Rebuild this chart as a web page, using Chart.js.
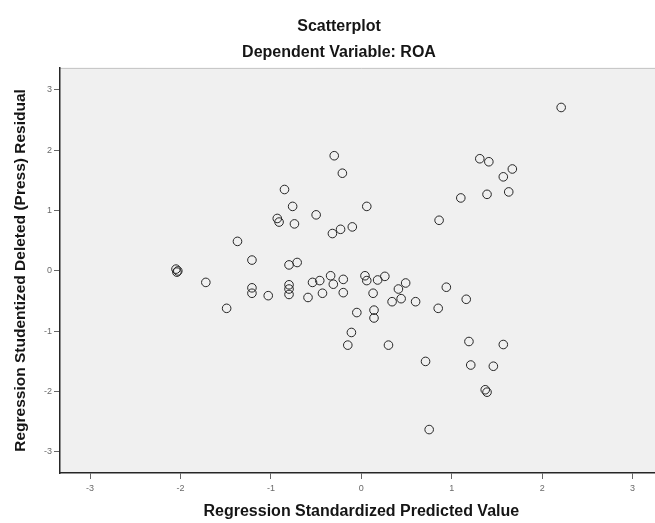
<!DOCTYPE html>
<html>
<head>
<meta charset="utf-8">
<title>Scatterplot</title>
<script src="https://cdn.jsdelivr.net/npm/chart.js@4.4.1/dist/chart.umd.min.js"></script>
<style>
  html, body { margin: 0; padding: 0; background: #ffffff; overflow: hidden; }
  canvas { display: block; }
</style>
</head>
<body>
<!-- the plot frame runs past the right edge of the picture, so the canvas is a bit wider than the window -->
<canvas id="scatter" width="668" height="523"></canvas>
<script>
// values
const predicted = [
  -2.05, -2.03, -2.04, -1.72, -1.49, -1.37, -1.21, -1.21, -1.21, -1.03,
  -0.85, -0.76, -0.93, -0.91, -0.74, -0.80, -0.71, -0.80, -0.80, -0.80,
  -0.59, -0.54, -0.46, -0.43, -0.34, -0.31, -0.20, -0.20, -0.11, -0.15,
  -0.05, 0.04, 0.06, 0.14, 0.14, 0.13, 0.18, 0.26, 0.30, 0.34,
  0.44, 0.41, 0.49, 0.60, 0.71, 0.75, 0.85, 0.94, 1.16, 1.19,
  1.57, 1.21, 1.46, 1.37, 1.39, -0.30, -0.21, 0.06, -0.50, -0.32,
  -0.23, -0.10, 0.86, 2.21, 1.31, 1.41, 1.67, 1.57, 1.10, 1.39,
  1.63
];
const residual = [
  0.03, 0.00, -0.02, -0.19, -0.62, 0.49, 0.18, -0.28, -0.37, -0.41,
  1.35, 1.07, 0.87, 0.81, 0.78, 0.10, 0.14, -0.23, -0.30, -0.39,
  -0.44, -0.19, -0.16, -0.37, -0.08, -0.22, -0.14, -0.36, -1.02, -1.23,
  -0.69, -0.08, -0.16, -0.65, -0.78, -0.37, -0.15, -0.09, -1.23, -0.51,
  -0.46, -0.30, -0.20, -0.51, -1.50, -2.63, -0.62, -0.27, -0.47, -1.17,
  -1.22, -1.56, -1.58, -1.97, -2.01, 1.91, 1.62, 1.07, 0.93, 0.62,
  0.69, 0.73, 0.84, 2.71, 1.86, 1.81, 1.69, 1.56, 1.21, 1.27,
  1.31
];
const xTicks = [-3, -2, -1, 0, 1, 2, 3];
const yTicks = [-3, -2, -1, 0, 1, 2, 3];

const chartTitle = 'Scatterplot';
const chartSubtitle = 'Dependent Variable: ROA';
const xTitle = 'Regression Standardized Predicted Value';
const yTitle = 'Regression Studentized Deleted (Press) Residual';

const points = predicted.map((p, i) => ({ x: p, y: residual[i] }));

const FONT = "'Liberation Sans', Arial, sans-serif";

// grey plot background + light top edge, like the SPSS output
const plotBackground = {
  id: 'plotBackground',
  beforeDraw(chart) {
    const { ctx, chartArea: a } = chart;
    ctx.save();
    ctx.fillStyle = '#f0f0f0';
    ctx.fillRect(a.left, a.top, a.right - a.left, a.bottom - a.top);
    ctx.strokeStyle = '#c4c4c4';
    ctx.lineWidth = 1;
    ctx.beginPath();
    ctx.moveTo(a.left, a.top + 0.5);
    ctx.lineTo(a.right, a.top + 0.5);
    ctx.stroke();
    ctx.restore();
  }
};

const ctx = document.getElementById('scatter').getContext('2d');
const chart = new Chart(ctx, {
  type: 'scatter',
  data: {
    datasets: [{
      data: points,
      pointStyle: 'circle',
      pointRadius: 4.3,
      pointHoverRadius: 4.3,
      borderWidth: 1,
      borderColor: '#262626',
      backgroundColor: 'rgba(0,0,0,0)'
    }]
  },
  options: {
    responsive: false,
    animation: false,
    devicePixelRatio: 1,
    layout: { padding: { left: 10, right: 0, top: 0, bottom: 0 } },
    plugins: {
      legend: { display: false },
      tooltip: { enabled: false },
      title: {
        display: true,
        text: chartTitle,
        color: '#151515',
        font: { family: FONT, size: 16, weight: 'bold', lineHeight: 1.2 },
        padding: { top: 17, bottom: 7 }
      },
      subtitle: {
        display: true,
        text: chartSubtitle,
        color: '#151515',
        font: { family: FONT, size: 16, weight: 'bold', lineHeight: 1.2 },
        padding: { top: 0, bottom: 5.5 }
      }
    },
    scales: {
      x: {
        type: 'linear',
        min: -3.333,
        max: 3.333,
        afterBuildTicks(scale) { scale.ticks = xTicks.map(v => ({ value: v })); },
        afterFit(scale) { scale.height = 50; scale.paddingLeft = 0; scale.paddingRight = 0; },
        border: { display: true, color: '#262626', width: 1.5 },
        grid: { drawOnChartArea: false, drawTicks: true, tickLength: 6, tickColor: '#666' },
        ticks: {
          autoSkip: false,
          color: '#6a6a6a',
          font: { family: FONT, size: 9 },
          padding: 4,
          maxRotation: 0
        },
        title: {
          display: true,
          text: xTitle,
          color: '#151515',
          font: { family: FONT, size: 16, weight: 'bold', lineHeight: 1.2 },
          padding: { top: 0, bottom: 1.5 }
        }
      },
      y: {
        type: 'linear',
        min: -3.35,
        max: 3.366,
        afterBuildTicks(scale) { scale.ticks = yTicks.map(v => ({ value: v })); },
        afterFit(scale) { scale.width = 50; scale.paddingTop = 0; scale.paddingBottom = 0; },
        border: { display: true, color: '#262626', width: 1.5 },
        grid: { drawOnChartArea: false, drawTicks: true, tickLength: 6, tickColor: '#666' },
        ticks: {
          autoSkip: false,
          color: '#6a6a6a',
          font: { family: FONT, size: 9 },
          padding: 2
        },
        title: {
          display: true,
          text: yTitle,
          color: '#151515',
          font: { family: FONT, size: 15.5, weight: 'bold', lineHeight: 1.2 },
          padding: { top: 1, bottom: 0 }
        }
      }
    }
  },
  plugins: [plotBackground]
});
</script>
</body>
</html>
